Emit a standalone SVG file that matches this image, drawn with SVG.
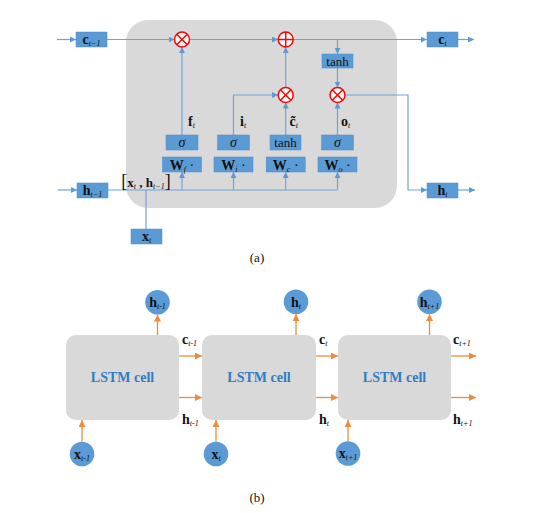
<svg xmlns="http://www.w3.org/2000/svg" width="535" height="513" viewBox="0 0 535 513">
<defs>
<marker id="ab" viewBox="0 0 10 10" refX="10" refY="5" markerWidth="6" markerHeight="6" orient="auto" markerUnits="userSpaceOnUse"><path d="M0,0 L10,5 L0,10 z" fill="#5B9BD5"/></marker>
<marker id="ao" viewBox="0 0 10 10" refX="10" refY="5" markerWidth="7" markerHeight="7" orient="auto" markerUnits="userSpaceOnUse"><path d="M0,0 L10,5 L0,10 z" fill="#F08A3C"/></marker>
</defs>
<style>
text{font-family:"Liberation Serif","Times New Roman",serif;fill:#111}
.b{font-weight:bold}
.s{font-size:8px;font-style:italic;font-weight:normal}
.box{fill:#5B9BD5;stroke:#4A8ACB;stroke-width:0.5}
.ln{fill:none;stroke:#6FA3D8;stroke-width:1.2}
.ar{marker-end:url(#ab)}
.op{fill:#fff;stroke:#F00;stroke-width:1.5}
.opl{stroke:#F00;stroke-width:1.5}
.cell{fill:#D9D9D9}
.ct{font-size:14px;font-weight:bold;fill:#2E7DC6}
.circ{fill:#5B9BD5}
.ol{fill:none;stroke:#F08A3C;stroke-width:1.3;marker-end:url(#ao)}
.cap{font-size:13px}
</style>
<rect x="126" y="20" width="271" height="188" rx="22" fill="#D9D9D9"/>
<g id="connectors-a">
<path class="ln ar" d="M57,39.5 H76"/>
<path class="ln ar" d="M107,39.5 H174.5"/>
<path class="ln ar" d="M189.5,39.5 H278"/>
<path class="ln ar" d="M293,39.5 H427"/>
<path class="ln ar" d="M458,39.5 H474"/>
<path class="ln ar" d="M337.5,39.5 V54"/>
<path class="ln ar" d="M337.5,68 V87.5"/>
<path class="ln ar" d="M182,135 V47"/>
<path class="ln ar" d="M233.5,135 V95 H278"/>
<path class="ln ar" d="M285.7,135 V102.5"/>
<path class="ln ar" d="M285.7,87.5 V47"/>
<path class="ln ar" d="M337.5,135 V102.5"/>
<path class="ln ar" d="M345,95 H408 V190 H427"/>
<path class="ln ar" d="M458,190 H475"/>
<path class="ln ar" d="M58,190 H77"/>
<path class="ln" d="M108,190 H337.5"/>
<path class="ln" d="M146,229 V190"/>
<path class="ln ar" d="M182,190 V172"/>
<path class="ln ar" d="M233.5,190 V172"/>
<path class="ln ar" d="M285.7,190 V172"/>
<path class="ln ar" d="M337.5,190 V172"/>
</g>
<g id="c_prev"><rect class="box" x="76" y="32" width="31" height="15"/><text x="91.5" y="44" text-anchor="middle" class="b" font-size="14">c<tspan class="s" dy="2">t−1</tspan></text></g>
<g id="c_t"><rect class="box" x="427" y="32" width="31" height="15"/><text x="442.5" y="44" text-anchor="middle" class="b" font-size="14">c<tspan class="s" dy="2">t</tspan></text></g>
<g id="h_prev"><rect class="box" x="77" y="183" width="31" height="15"/><text x="92.5" y="195" text-anchor="middle" class="b" font-size="14">h<tspan class="s" dy="2">t−1</tspan></text></g>
<g id="h_t"><rect class="box" x="427" y="183" width="31" height="15"/><text x="442.5" y="195" text-anchor="middle" class="b" font-size="14">h<tspan class="s" dy="2">t</tspan></text></g>
<g id="x_t"><rect class="box" x="131" y="229" width="31" height="15"/><text x="146.5" y="241" text-anchor="middle" class="b" font-size="14">x<tspan class="s" dy="2">t</tspan></text></g>
<g id="concat"><text x="146" y="187" text-anchor="middle" font-size="13" class="b"><tspan font-weight="normal" font-size="18">[</tspan>x<tspan class="s" dy="2">t</tspan><tspan dy="-2"> , h</tspan><tspan class="s" dy="2">t−1</tspan><tspan dy="-2" font-weight="normal" font-size="18">]</tspan></text></g>
<g id="mul_f"><circle class="op" cx="182" cy="39.5" r="7.5"/><path class="opl" d="M176.7,34.2 L187.3,44.8 M187.3,34.2 L176.7,44.8"/></g>
<g id="add_c"><circle class="op" cx="285.7" cy="39.5" r="7.5"/><path class="opl" d="M278.2,39.5 H293.2 M285.7,32 V47"/></g>
<g id="mul_i"><circle class="op" cx="285.7" cy="95" r="7.5"/><path class="opl" d="M280.4,89.7 L291,100.3 M291,89.7 L280.4,100.3"/></g>
<g id="mul_o"><circle class="op" cx="337.5" cy="95" r="7.5"/><path class="opl" d="M332.2,89.7 L342.8,100.3 M342.8,89.7 L332.2,100.3"/></g>
<g id="tanh_out"><rect class="box" x="322" y="54" width="31" height="14"/><text x="337.5" y="65.5" text-anchor="middle" font-size="13">tanh</text></g>
<g id="gate_f"><rect class="box" x="166" y="135" width="32" height="15"/><text x="182" y="147" text-anchor="middle" font-size="14" font-style="italic">σ</text><rect class="box" x="162.5" y="157" width="39" height="15"/><text x="182" y="169.5" text-anchor="middle" class="b" font-size="14">W<tspan class="s" dy="2">f</tspan><tspan dy="-2" font-weight="normal"> ·</tspan></text><text x="188" y="126" class="b" font-size="14">f<tspan class="s" dy="2">t</tspan></text></g>
<g id="gate_i"><rect class="box" x="217.5" y="135" width="32" height="15"/><text x="233.5" y="147" text-anchor="middle" font-size="14" font-style="italic">σ</text><rect class="box" x="214" y="157" width="39" height="15"/><text x="233.5" y="169.5" text-anchor="middle" class="b" font-size="14">W<tspan class="s" dy="2">i</tspan><tspan dy="-2" font-weight="normal"> ·</tspan></text><text x="240" y="126" class="b" font-size="14">i<tspan class="s" dy="2">t</tspan></text></g>
<g id="gate_c"><rect class="box" x="270" y="135" width="31" height="15"/><text x="285.5" y="147" text-anchor="middle" font-size="13">tanh</text><rect class="box" x="266.2" y="157" width="39" height="15"/><text x="285.7" y="169.5" text-anchor="middle" class="b" font-size="14">W<tspan class="s" dy="2">c</tspan><tspan dy="-2" font-weight="normal"> ·</tspan></text><text x="289.5" y="126" class="b" font-size="14">c&#x303;<tspan class="s" dy="2">t</tspan></text></g>
<g id="gate_o"><rect class="box" x="321.5" y="135" width="32" height="15"/><text x="337.5" y="147" text-anchor="middle" font-size="14" font-style="italic">σ</text><rect class="box" x="318" y="157" width="39" height="15"/><text x="337.5" y="169.5" text-anchor="middle" class="b" font-size="14">W<tspan class="s" dy="2">o</tspan><tspan dy="-2" font-weight="normal"> ·</tspan></text><text x="341" y="126" class="b" font-size="14">o<tspan class="s" dy="2">t</tspan></text></g>
<text class="cap" x="257" y="262" text-anchor="middle">(a)</text>
<g id="connectors-b">
<path class="ol" d="M179,356 H202"/>
<path class="ol" d="M179,397.5 H202"/>
<path class="ol" d="M316,356 H338"/>
<path class="ol" d="M316,397.5 H338"/>
<path class="ol" d="M451,356 H476"/>
<path class="ol" d="M451,397.5 H476"/>
<path class="ol" d="M157.5,335 V314.5"/>
<path class="ol" d="M296,335 V314"/>
<path class="ol" d="M429.5,335 V314"/>
<path class="ol" d="M82,441.5 V420"/>
<path class="ol" d="M216,441.5 V420"/>
<path class="ol" d="M348,441 V420"/>
</g>
<g id="cell1"><rect class="cell" x="66" y="335" width="113" height="85" rx="10"/><text class="ct" x="122.5" y="382" text-anchor="middle">LSTM cell</text></g>
<g id="cell2"><rect class="cell" x="202" y="335" width="114" height="85" rx="10"/><text class="ct" x="259" y="382" text-anchor="middle">LSTM cell</text></g>
<g id="cell3"><rect class="cell" x="338" y="335" width="113" height="85" rx="10"/><text class="ct" x="394.5" y="382" text-anchor="middle">LSTM cell</text></g>
<g id="out_h_prev"><circle class="circ" cx="157.5" cy="302.3" r="12.3"/><text x="157.5" y="307" text-anchor="middle" class="b" font-size="14">h<tspan class="s" dy="2">t-1</tspan></text></g>
<g id="out_h_t"><circle class="circ" cx="296" cy="301.7" r="12.3"/><text x="296" y="306.5" text-anchor="middle" class="b" font-size="14">h<tspan class="s" dy="2">t</tspan></text></g>
<g id="out_h_next"><circle class="circ" cx="429.5" cy="301.7" r="12.3"/><text x="429.5" y="306.5" text-anchor="middle" class="b" font-size="14">h<tspan class="s" dy="2">t+1</tspan></text></g>
<g id="in_x_prev"><circle class="circ" cx="82" cy="454" r="12.3"/><text x="82" y="458.5" text-anchor="middle" class="b" font-size="14">x<tspan class="s" dy="2">t-1</tspan></text></g>
<g id="in_x_t"><circle class="circ" cx="216" cy="454" r="12.3"/><text x="216" y="458.5" text-anchor="middle" class="b" font-size="14">x<tspan class="s" dy="2">t</tspan></text></g>
<g id="in_x_next"><circle class="circ" cx="348" cy="453.5" r="12.3"/><text x="348" y="458" text-anchor="middle" class="b" font-size="14">x<tspan class="s" dy="2">t+1</tspan></text></g>
<g id="labels-b">
<text x="182" y="344" class="b" font-size="14">c<tspan class="s" dy="2">t-1</tspan></text>
<text x="182" y="424" class="b" font-size="14">h<tspan class="s" dy="2">t-1</tspan></text>
<text x="319" y="344" class="b" font-size="14">c<tspan class="s" dy="2">t</tspan></text>
<text x="319" y="424" class="b" font-size="14">h<tspan class="s" dy="2">t</tspan></text>
<text x="453" y="344" class="b" font-size="14">c<tspan class="s" dy="2">t+1</tspan></text>
<text x="453" y="424" class="b" font-size="14">h<tspan class="s" dy="2">t+1</tspan></text>
</g>
<text class="cap" x="257" y="502" text-anchor="middle">(b)</text>
</svg>
